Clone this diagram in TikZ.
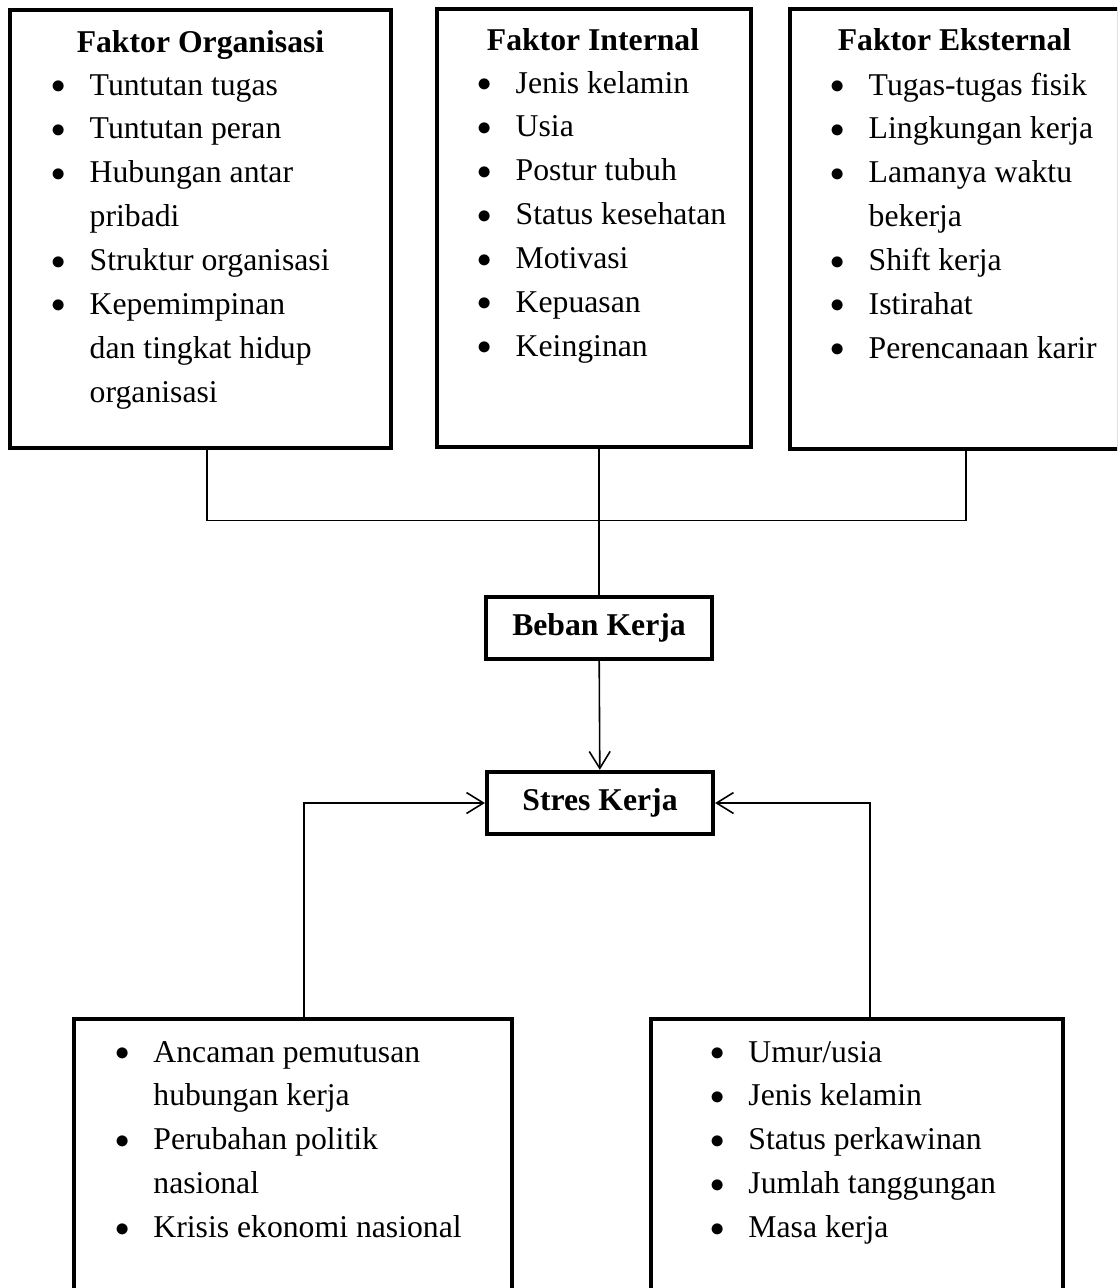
\documentclass[tikz,border=0pt]{standalone}
\usepackage{fontspec}
\setmainfont{Liberation Serif}
\usepackage{array, graphicx}
\usetikzlibrary{fit, arrows.meta}

\newcommand{\blt}{\raisebox{0.5pt}{\scalebox{0.9}{$\bullet$}}}
\newcommand{\itm}[1]{\blt & #1\\}
\newcommand{\sambung}[1]{& #1\\}

\begin{document}
\begin{tikzpicture}[x = 0.3785pt, y = -0.3785pt, % one unit = one pixel, y downwards
                > = {Straight Barb[length = 6.4pt, width = 7.9pt]}, % open arrow head
                semithick % line style
            ]

            \tikzstyle{box}=[draw = black, rectangle, line width = 1.2pt,
            inner sep = 0pt]
            \tikzstyle{mainbox}=[box, line width = 1.6pt, minimum width = 85.5pt,
            minimum height = 23.5pt, font = \fontsize{12}{14}\selectfont\bfseries]
            \tikzstyle{title}=[inner sep = 0pt, anchor = base,
            font = \fontsize{12}{14}\selectfont\bfseries]
            \tikzstyle{list}=[inner sep = 0pt, anchor = base west,
            font = \fontsize{12}{16.6}\selectfont]

            \useasboundingbox (0,0) rectangle (1117,1288);
            \clip (0,0) rectangle (1117,1288);

            % three factor boxes
            \node[box, fit = {(10,10) (391,448)}] (org) {};
            \node[box, fit = {(437,9) (751,447)}] (intl) {};
            \node[box, fit = {(790,9) (1119,449)}] (ext) {};

            \node[title] (orgT) at (200.5,52) {Faktor Organisasi};
            \node[title] (intlT) at (593,50) {Faktor Internal};
            \node[title] (extT) at (954.5,50) {Faktor Eksternal};

            \node[list] (orgL) at (50.9,95) {\begin{tabular}[t]{@{}p{14.4pt}@{}l@{}}
            \itm{Tuntutan tugas}
            \itm{Tuntutan peran}
            \itm{Hubungan antar}
            \sambung{pribadi}
            \itm{Struktur organisasi}
            \itm{Kepemimpinan}
            \sambung{dan tingkat hidup}
            \sambung{organisasi}
            \end{tabular}};
            \node[list] (intlL) at (476.9,93) {\begin{tabular}[t]{@{}p{14.4pt}@{}l@{}}
            \itm{Jenis kelamin}
            \itm{Usia}
            \itm{Postur tubuh}
            \itm{Status kesehatan}
            \itm{Motivasi}
            \itm{Kepuasan}
            \itm{Keinginan}
            \end{tabular}};
            \node[list] (extL) at (829.9,95) {\begin{tabular}[t]{@{}p{14.4pt}@{}l@{}}
            \itm{Tugas-tugas fisik}
            \itm{Lingkungan kerja}
            \itm{Lamanya waktu}
            \sambung{bekerja}
            \itm{Shift kerja}
            \itm{Istirahat}
            \itm{Perencanaan karir}
            \end{tabular}};

            % middle boxes
            \node[mainbox] (beban) at (599,628) {Beban Kerja};
            \node[mainbox] (stres) at (600,803) {Stres Kerja};

            % two bottom boxes
            \node[box, fit = {(74,1019) (512,1300)}] (luar) {};
            \node[box, fit = {(651,1019) (1063,1300)}] (diri) {};

            \node[list] (luarL) at (114.6,1062) {\begin{tabular}[t]{@{}p{14.4pt}@{}l@{}}
            \itm{Ancaman pemutusan}
            \sambung{hubungan kerja}
            \itm{Perubahan politik}
            \sambung{nasional}
            \itm{Krisis ekonomi nasional}
            \end{tabular}};
            \node[list] (diriL) at (709.6,1062) {\begin{tabular}[t]{@{}p{14.4pt}@{}l@{}}
            \itm{Umur/usia}
            \itm{Jenis kelamin}
            \itm{Status perkawinan}
            \itm{Jumlah tanggungan}
            \itm{Masa kerja}
            \end{tabular}};

            \draw ([xshift = 2.5pt]org.south) -- ++(0,71) -|
            ([xshift = 4.35pt]ext.south);
            \draw (beban.north) -- (beban.north |- intl.south);
            \path[->] (beban) edge (stres);
            \draw[->] ([xshift = 4.2pt]luar.north) |- (stres.west);
            \draw[->] ([xshift = 4.9pt]diri.north) |- (stres.east);
        \end{tikzpicture}
\end{document}
